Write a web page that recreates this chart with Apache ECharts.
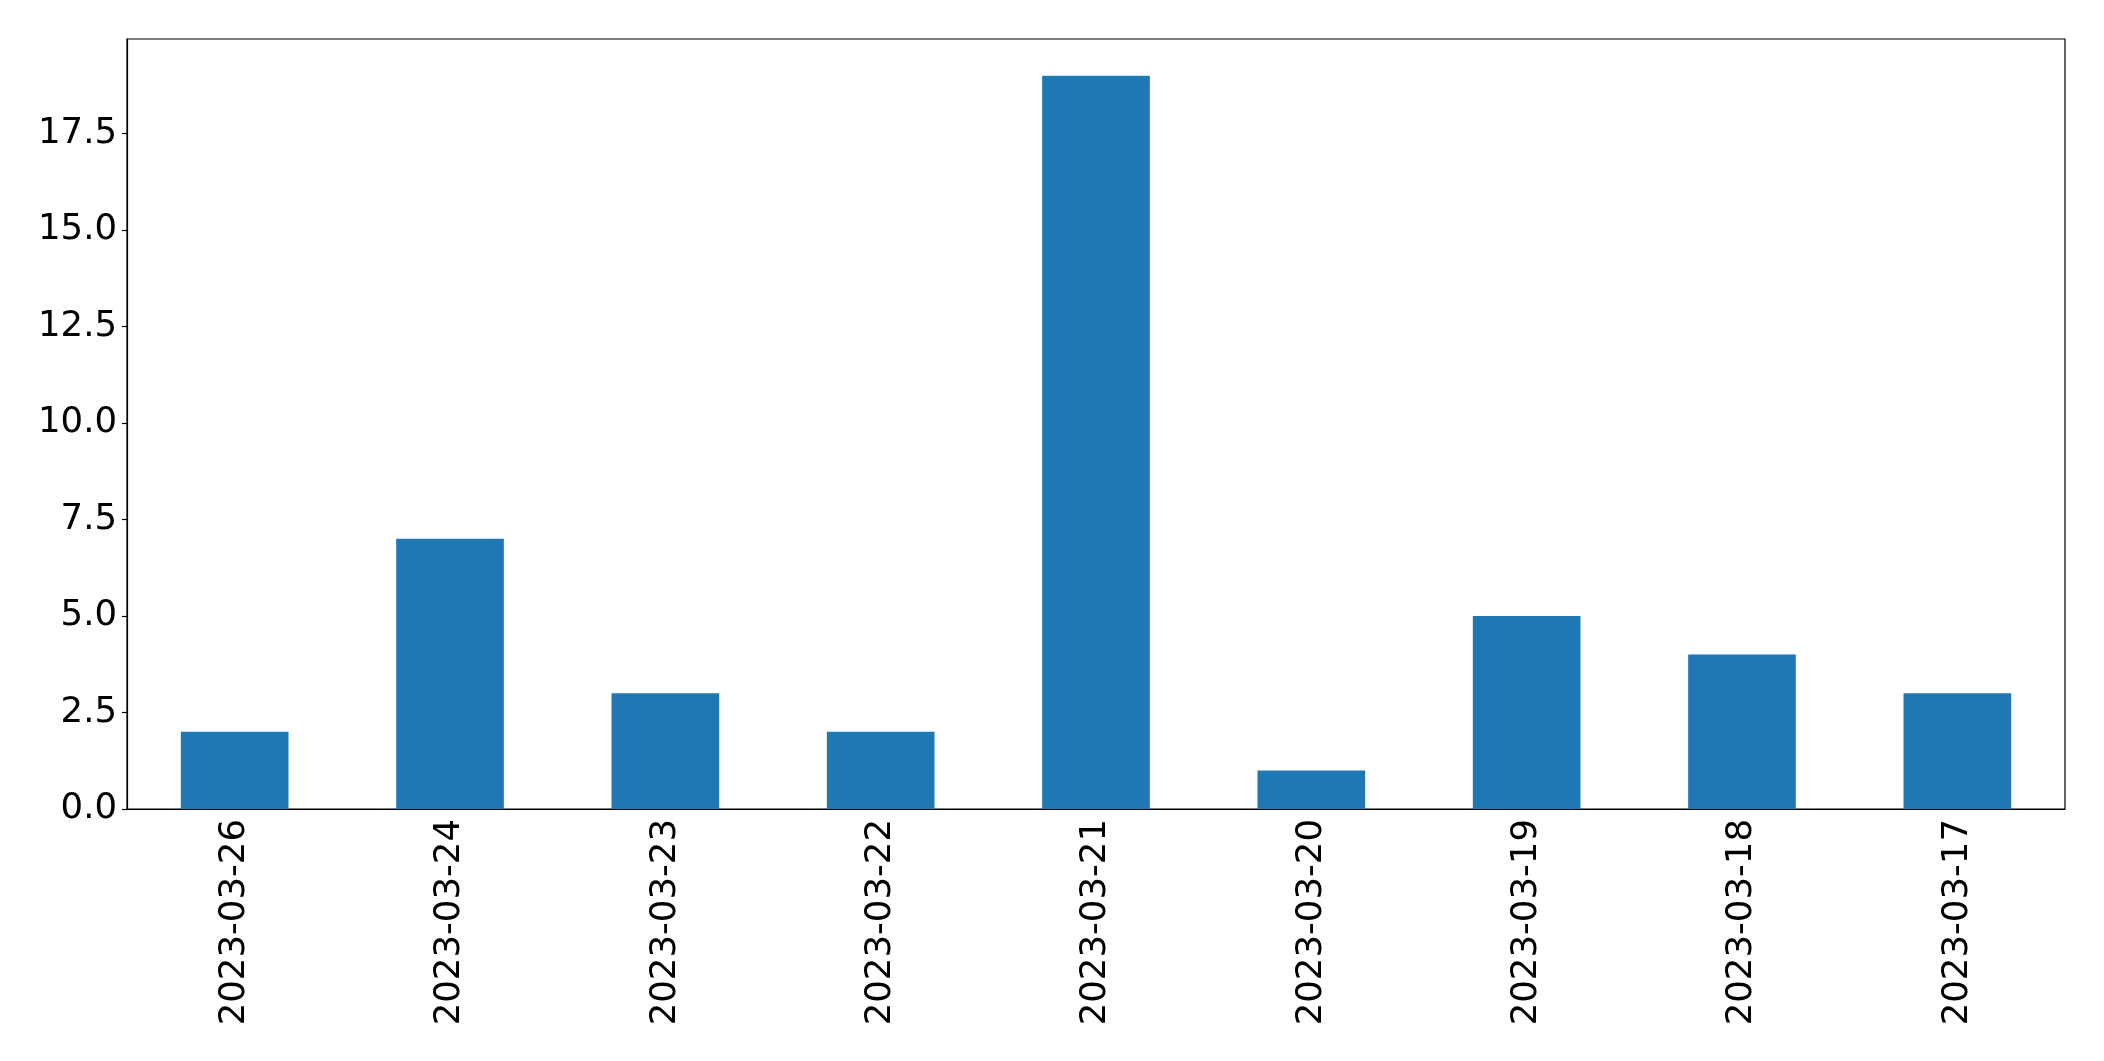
<!DOCTYPE html>
<html>
<head>
<meta charset="utf-8">
<script src="https://cdn.jsdelivr.net/npm/echarts@6/dist/echarts.min.js"></script>
<style>
html,body{margin:0;padding:0;background:#fff;}
#chart{width:2104px;height:1061px;}
</style>
</head>
<body>
<div id="chart"></div>
<script>
const categories = ['2023-03-26','2023-03-24','2023-03-23','2023-03-22','2023-03-21','2023-03-20','2023-03-19','2023-03-18','2023-03-17'];
const values = [2, 7, 3, 2, 19, 1, 5, 4, 3];
const yTicks = [0, 2.5, 5, 7.5, 10, 12.5, 15, 17.5];

const chart = echarts.init(document.getElementById('chart'));
const font = 'DejaVu Sans';
chart.setOption({
  animation: false,
  grid: {left: 127, right: 39, top: 39, bottom: 252, show: true, borderColor: '#000', borderWidth: 1.2, backgroundColor: 'transparent'},
  xAxis: {
    type: 'category',
    data: categories,
    axisLine: {lineStyle: {color: '#000', width: 1.2}},
    axisTick: {alignWithLabel: true, length: 5, lineStyle: {color: '#000', width: 1.2}},
    axisLabel: {rotate: 90, margin: 10, color: '#000', fontFamily: font, fontSize: 35.5, interval: 0}
  },
  yAxis: {
    type: 'value',
    min: 0,
    max: 19.95,
    interval: 2.5,
    splitLine: {show: false},
    axisLine: {show: true, lineStyle: {color: '#000', width: 1.2}},
    axisTick: {show: true, length: 5, lineStyle: {color: '#000', width: 1.2}, customValues: yTicks},
    axisLabel: {margin: 10, color: '#000', fontFamily: font, fontSize: 35.5, customValues: yTicks,
      formatter: v => Number(v).toFixed(1)}
  },
  series: [{
    type: 'bar',
    data: values,
    barWidth: '50%',
    itemStyle: {color: '#1f77b4'}
  }]
});
</script>
</body>
</html>
